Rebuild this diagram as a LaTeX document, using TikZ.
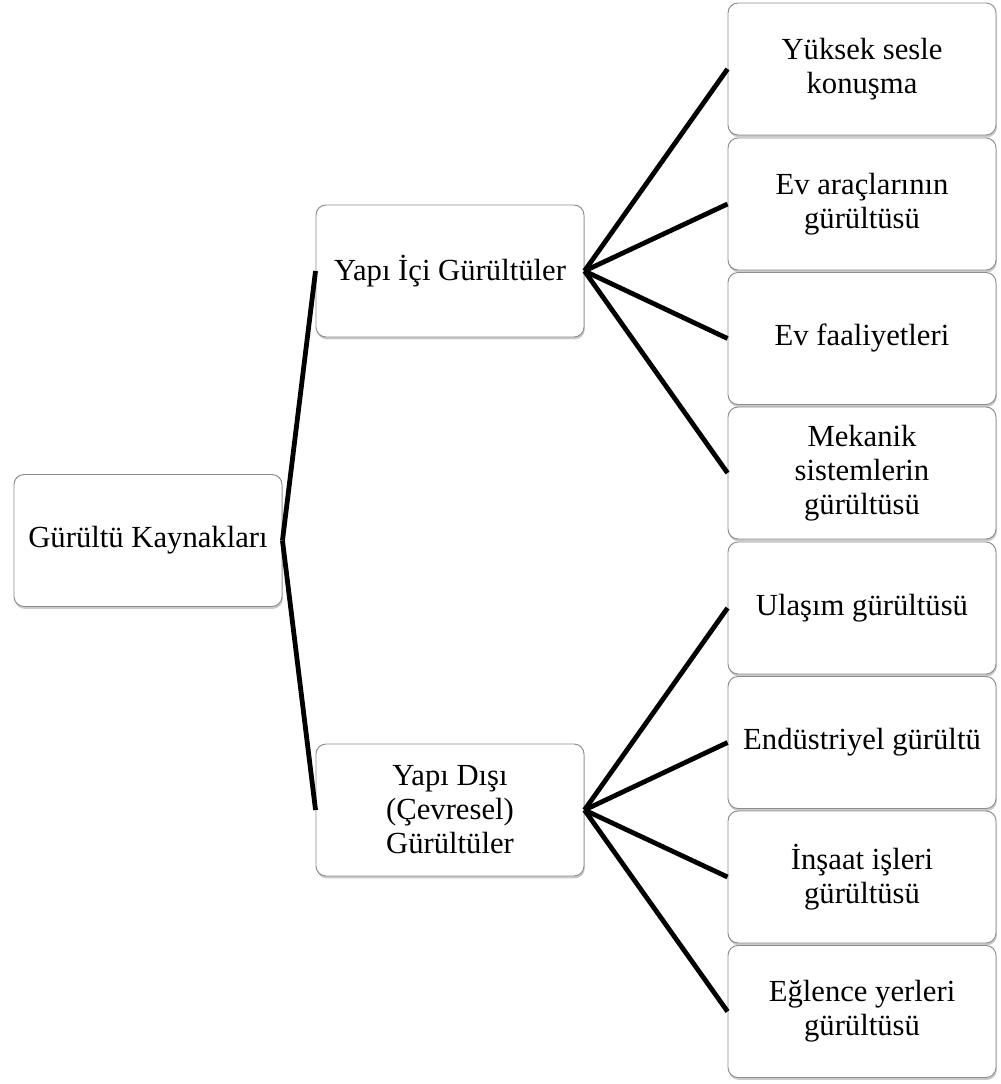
\documentclass[tikz,border=0pt]{standalone}
\usepackage{fontspec}
\setmainfont{Liberation Serif}
\usetikzlibrary{shadows}
\begin{document}
\begin{tikzpicture}[x=0.75pt,y=-0.75pt,
  box/.style={draw=black!45, line width=0.7pt, rounded corners=7.5pt, fill=white,
    minimum width=201pt, minimum height=99pt, inner sep=0pt, align=center,
    font=\fontsize{23}{25.5}\selectfont,
    drop shadow={shadow xshift=0.6pt, shadow yshift=-1.8pt, opacity=0.35, fill=black!60}},
  link/.style={line width=3.6pt, black}]
\useasboundingbox (0,0) rectangle (1000,1084);
\node[box] (root) at (148,540.5) {Gürültü Kaynakları};
\node[box] (mid1) at (450,271) {Yapı İçi Gürültüler};
\node[box] (mid2) at (450,810) {Yapı Dışı\\(Çevresel)\\Gürültüler};
\node[box] (l1) at (862,69) {Yüksek sesle\\konuşma};
\node[box] (l2) at (862,204) {Ev araçlarının\\gürültüsü};
\node[box] (l3) at (862,338.5) {Ev faaliyetleri};
\node[box] (l4) at (862,473) {Mekanik\\sistemlerin\\gürültüsü};
\node[box] (l5) at (862,608) {Ulaşım gürültüsü};
\node[box] (l6) at (862,742.5) {Endüstriyel gürültü};
\node[box] (l7) at (862,877) {İnşaat işleri\\gürültüsü};
\node[box] (l8) at (862,1011.5) {Eğlence yerleri\\gürültüsü};
\draw[link] (root.east) -- (mid1.west);
\draw[link] (root.east) -- (mid2.west);
\foreach \n in {l1,l2,l3,l4} \draw[link] (mid1.east) -- (\n.west);
\foreach \n in {l5,l6,l7,l8} \draw[link] (mid2.east) -- (\n.west);
\end{tikzpicture}
\end{document}
